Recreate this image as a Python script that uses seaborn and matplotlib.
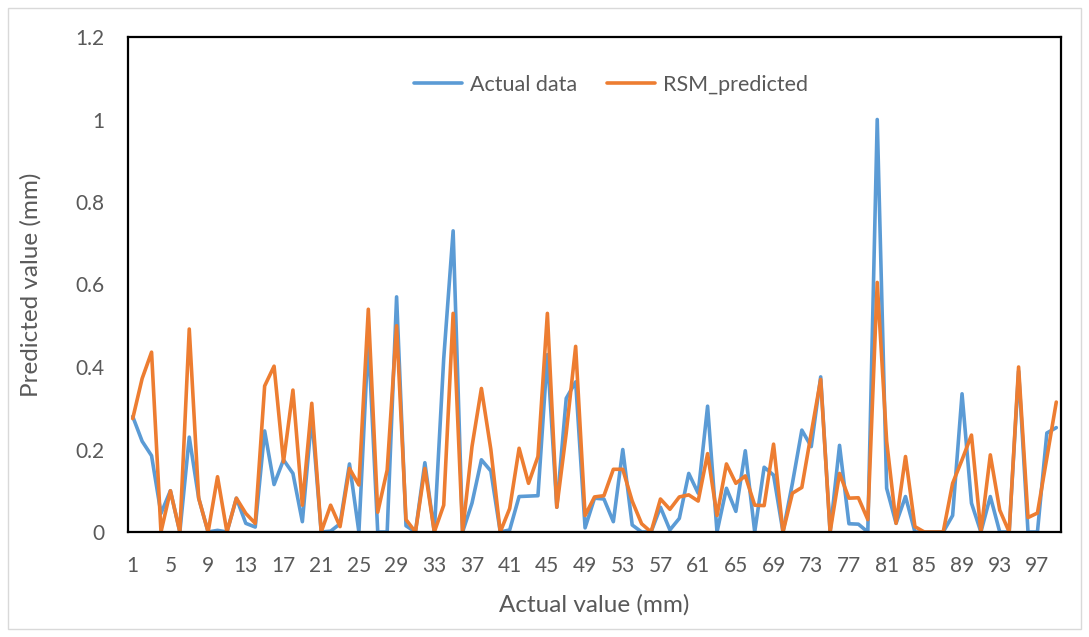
import matplotlib
matplotlib.use("Agg")
import matplotlib.pyplot as plt
import seaborn as sns
import pandas as pd
import numpy as np
from matplotlib.patches import Rectangle

sample = list(range(1, 100))

actual = [0.28, 0.22, 0.185, 0.045, 0.10, 0.0, 0.23, 0.082, 0.0, 0.004,
          0.0, 0.082, 0.021, 0.012, 0.245, 0.115, 0.175, 0.142, 0.025, 0.28,
          0.0, 0.002, 0.02, 0.165, 0.0, 0.47, 0.0, 0.0, 0.57, 0.015,
          0.0, 0.168, 0.0, 0.42, 0.73, 0.0, 0.07, 0.175, 0.148, 0.0,
          0.005, 0.086, 0.087, 0.088, 0.43, 0.06, 0.324, 0.364, 0.01, 0.082,
          0.08, 0.025, 0.20, 0.017, 0.0, 0.0, 0.06, 0.005, 0.033, 0.142,
          0.094, 0.305, 0.0, 0.106, 0.05, 0.197, 0.0, 0.157, 0.138, 0.0,
          0.118, 0.247, 0.207, 0.376, 0.0, 0.21, 0.02, 0.019, 0.0, 1.0,
          0.106, 0.021, 0.086, 0.0, 0.0, 0.0, 0.0, 0.04, 0.335, 0.07,
          0.0, 0.086, 0.0, 0.0, 0.39, 0.0, 0.0, 0.24, 0.253]

rsm = [0.275, 0.372, 0.436, 0.0, 0.10, 0.0, 0.492, 0.082, 0.0, 0.134,
       0.0, 0.082, 0.045, 0.021, 0.354, 0.402, 0.17, 0.344, 0.065, 0.312,
       0.0, 0.065, 0.013, 0.154, 0.114, 0.54, 0.048, 0.15, 0.50, 0.03,
       0.0, 0.154, 0.0, 0.065, 0.53, 0.0, 0.207, 0.348, 0.20, 0.0,
       0.057, 0.203, 0.118, 0.183, 0.53, 0.06, 0.24, 0.45, 0.04, 0.085,
       0.088, 0.152, 0.152, 0.075, 0.02, 0.0, 0.08, 0.055, 0.085, 0.09,
       0.075, 0.19, 0.04, 0.165, 0.118, 0.136, 0.065, 0.064, 0.213, 0.0,
       0.094, 0.108, 0.24, 0.37, 0.0, 0.142, 0.082, 0.083, 0.03, 0.605,
       0.22, 0.021, 0.183, 0.013, 0.0, 0.0, 0.0, 0.118, 0.175, 0.235,
       0.0, 0.187, 0.053, 0.0, 0.40, 0.035, 0.046, 0.18, 0.315]

series_names = ["Actual data", "RSM_predicted"]
colors = ["#5B9BD5", "#ED7D31"]
xtick_labels = list(range(1, 100, 4))
ytick_values = [0, 0.2, 0.4, 0.6, 0.8, 1.0, 1.2]
ytick_labels = ["0", "0.2", "0.4", "0.6", "0.8", "1", "1.2"]

df = pd.DataFrame({
    "x": sample * 2,
    "value": actual + rsm,
    "series": [series_names[0]] * len(actual) + [series_names[1]] * len(rsm),
})

sns.set_style("white")
plt.rcParams["font.family"] = ["Lato", "DejaVu Sans"]

fig = plt.figure(figsize=(10.89, 6.37), dpi=100)
ax = fig.add_axes([128 / 1089, 1 - 532 / 637, (1061 - 128) / 1089, (532 - 37) / 637])

sns.lineplot(data=df, x="x", y="value", hue="series", palette=colors,
             linewidth=2.6, ax=ax, legend=True)

ax.set_xlim(0.5, 99.5)
ax.set_ylim(0, 1.2)
ax.set_xticks(xtick_labels)
ax.set_xticklabels([str(v) for v in xtick_labels])
ax.set_yticks(ytick_values)
ax.set_yticklabels(ytick_labels)
ax.tick_params(axis="both", length=0, labelsize=15, labelcolor="#595959")
ax.tick_params(axis="y", pad=17)
ax.tick_params(axis="x", pad=17)

for s in ax.spines.values():
    s.set_color("black")
    s.set_linewidth(1.6)

ax.set_xlabel("Actual value (mm)", fontsize=17.5, color="#595959", labelpad=13)
ax.set_ylabel("Predicted value (mm)", fontsize=17.5, color="#595959", labelpad=24)

leg = ax.legend(loc="center", bbox_to_anchor=(0.518, 0.903), ncol=2,
                frameon=False, fontsize=15.5, handlelength=2.2, columnspacing=1.4,
                handletextpad=0.4)
for t in leg.get_texts():
    t.set_color("#595959")
for h in leg.get_lines():
    h.set_linewidth(2.6)

fig.patches.append(Rectangle((8 / 1089, 8 / 637), 1073 / 1089, 621 / 637,
                             transform=fig.transFigure, fill=False,
                             edgecolor="#D9D9D9", linewidth=1))

fig.savefig("out.png", dpi=100)
